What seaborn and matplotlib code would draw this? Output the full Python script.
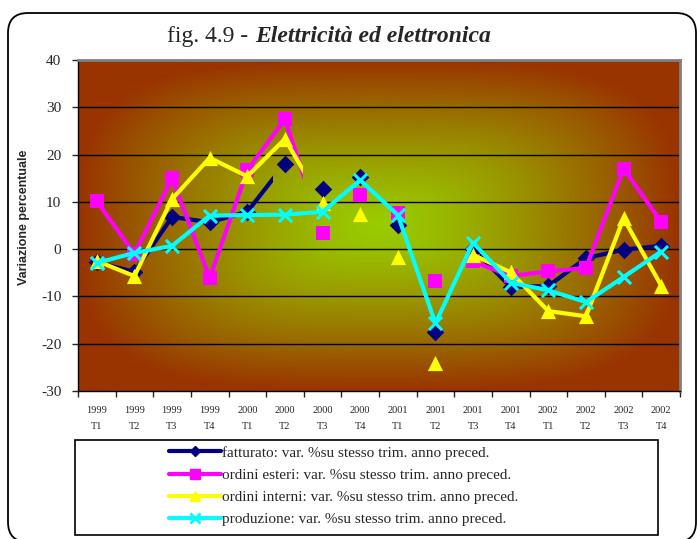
import numpy as np
import pandas as pd
import matplotlib
matplotlib.use("Agg")
import matplotlib.pyplot as plt
import seaborn as sns
from matplotlib.lines import Line2D
from matplotlib.patches import Rectangle, FancyBboxPatch
from matplotlib.transforms import IdentityTransform

# --- data ---
years = ['1999'] * 4 + ['2000'] * 4 + ['2001'] * 4 + ['2002'] * 4
quarters = ['T1', 'T2', 'T3', 'T4'] * 4
fatturato = [-2.8, -4.8, 6.8, 5.7, 7.9, 18.1, 12.7, 15.3,
             5.0, -17.5, 0.0, -8.0, -7.8, -1.9, -0.1, 0.7]
ordini_esteri = [10.1, -1.0, 15.0, -6.1, 16.7, 27.5, 3.4, 11.4,
                 7.6, -6.8, -2.6, -5.7, -4.7, -4.0, 17.0, 5.8]
ordini_interni = [-2.5, -5.7, 10.6, 19.3, 15.4, 23.3, 9.7, 7.4,
                  -1.7, -24.0, -1.2, -4.9, -13.1, -14.2, 6.5, -7.7]
produzione = [-2.9, -0.8, 0.7, 7.1, 7.2, 7.3, 7.9, 14.6,
              7.2, -15.7, 1.4, -7.1, -8.7, -11.2, -5.9, -0.5]

labels = ['fatturato: var. %su stesso trim. anno preced.',
          'ordini esteri: var. %su stesso trim. anno preced.',
          'ordini interni: var. %su stesso trim. anno preced.',
          'produzione: var. %su stesso trim. anno preced.']

df = pd.DataFrame({'pos': np.arange(16), 'fatturato': fatturato,
                   'ordini_esteri': ordini_esteri, 'ordini_interni': ordini_interni,
                   'produzione': produzione})

# column, colour, marker, scatter size, (end of first piece, clip x), start of second piece
series = [
    ('fatturato', '#000080', 'D', 80, (5, 4.69), 10),
    ('ordini_esteri', '#FF00FF', 's', 110, (6, 5.48), 10),
    ('ordini_interni', '#FFFF00', '^', 120, (6, 5.48), 10),
    ('produzione', '#00FFFF', 'x', 90, None, 0),
]

sns.set_style("white")
plt.rcParams['font.family'] = ['Liberation Serif', 'DejaVu Serif']

fig = plt.figure(figsize=(6.97, 5.39), dpi=100)
ax = fig.add_axes([78 / 697, 1 - 391 / 539, 602 / 697, 331 / 539])

# gradient background (brown edges, green centre)
gx, gy = np.meshgrid(np.linspace(-1, 1, 300), np.linspace(-1, 1, 200))
t = np.clip((np.abs(gx) ** 3.5 + np.abs(gy) ** 3.5) ** (1 / 3.5), 0, 1) ** 1.3
edge = np.array([153, 51, 0]) / 255
centre = np.array([153, 204, 0]) / 255
img = centre * (1 - t[..., None]) + edge * t[..., None]
ax.imshow(img, extent=(-0.5, 15.5, -30, 40), aspect='auto', origin='lower', zorder=0)

for y in range(-20, 40, 10):
    ax.axhline(y, color='black', lw=1, zorder=1)

for z, (col, color, marker, size, first, start) in enumerate(series):
    zo = 3 + z
    if first is None:
        sns.lineplot(data=df, x='pos', y=col, color=color, lw=3, ax=ax, zorder=zo)
    else:
        end, cut = first
        part = df.iloc[:end + 1]
        sns.lineplot(data=part, x='pos', y=col, color=color, lw=3, ax=ax, zorder=zo)
        ax.lines[-1].set_clip_path(Rectangle((-1, -100), cut + 1, 200, transform=ax.transData))
        sns.lineplot(data=df.iloc[start:], x='pos', y=col, color=color, lw=3, ax=ax, zorder=zo)
    if marker == 'x':
        sns.scatterplot(data=df, x='pos', y=col, marker='x', s=size, color=color,
                        linewidth=2.2, ax=ax, zorder=zo + 0.5)
    else:
        sns.scatterplot(data=df, x='pos', y=col, marker=marker, s=size, color=color,
                        edgecolor=color, linewidth=0, ax=ax, zorder=zo + 0.5)

ax.set_xlim(-0.5, 15.5)
ax.set_ylim(-30, 40)
ax.set_xlabel('')
ax.set_ylabel('')

ax.set_yticks(range(-30, 41, 10))
ax.set_yticklabels([str(v) for v in range(-30, 41, 10)], fontsize=11)
ax.tick_params(axis='y', direction='out', length=4, width=1, pad=8, left=True)

ax.set_xticks(range(16))
ax.set_xticklabels([y + '\n' + q for y, q in zip(years, quarters)],
                   fontsize=7.5, linespacing=2.0)
ax.set_xticks(np.arange(-0.5, 16, 1), minor=True)
ax.tick_params(axis='x', which='major', length=0, pad=11)
ax.tick_params(axis='x', which='minor', direction='out', length=4, width=1, bottom=True)

for s in ['left', 'bottom']:
    ax.spines[s].set_color('black')
    ax.spines[s].set_linewidth(1)
for s in ['top', 'right']:
    ax.spines[s].set_color('#808080')
    ax.spines[s].set_linewidth(2)

# title, mixed styles
fig.text(254 / 697, 1 - 36 / 539, 'fig. 4.9 - ', ha='right', va='center', fontsize=17)
fig.text(255 / 697, 1 - 36 / 539, 'Elettricità ed elettronica', ha='left', va='center',
         fontsize=17, fontweight='bold', fontstyle='italic')

fig.text(24 / 697, 1 - 217 / 539, 'Variazione percentuale', rotation=90, ha='center',
         va='center', fontsize=9, fontweight='bold', family=['Liberation Sans', 'DejaVu Sans'])

# legend
handles = [
    Line2D([], [], color='#000080', lw=3, marker='D', markersize=5),
    Line2D([], [], color='#FF00FF', lw=3, marker='s', markersize=7),
    Line2D([], [], color='#FFFF00', lw=3, marker='^', markersize=7),
    Line2D([], [], color='#00FFFF', lw=3, marker='x', markersize=7, markeredgewidth=2),
]
fig.legend(handles, labels, loc='upper left', bbox_to_anchor=(169 / 697, 1 - 446 / 539),
           frameon=False, fontsize=11, handlelength=3.4, handletextpad=0.05,
           borderpad=0, borderaxespad=0, labelspacing=0.55)
fig.add_artist(Rectangle((75 / 697, 1 - 535 / 539), 583 / 697, 95 / 539,
                         fill=False, ec='black', lw=1.2, transform=fig.transFigure))

# rounded outer frame (pixel coords)
fig.add_artist(FancyBboxPatch((8, -3), 688, 529, boxstyle='round,pad=0,rounding_size=20',
                              fill=False, ec='black', lw=1.3, transform=IdentityTransform()))

fig.savefig('out.png', dpi=100)
